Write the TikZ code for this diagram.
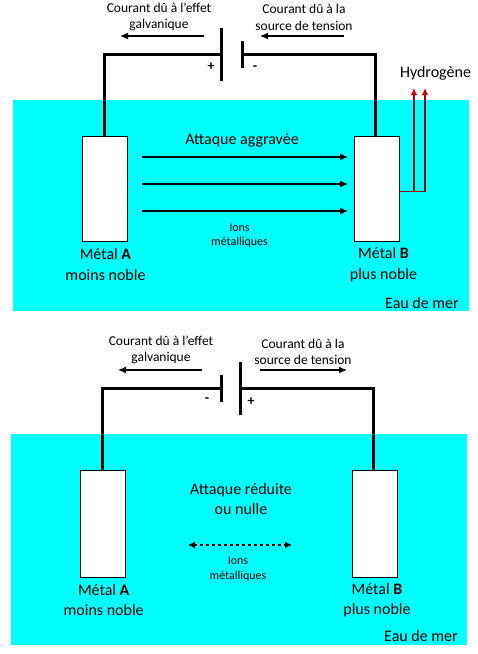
\documentclass[tikz,border=0pt]{standalone}
\usepackage{fontspec}
\setmainfont{Carlito}
\usetikzlibrary{arrows.meta}
\definecolor{sea}{RGB}{0,255,255}
\definecolor{hyd}{RGB}{140,10,10}
\definecolor{hydtip}{RGB}{205,0,0}
\tikzset{
  water/.style={fill=sea,draw=none},
  metal/.style={draw=black,fill=white,line width=1.4pt},
  wire/.style={line width=3pt,line cap=butt,line join=miter},
  plate/.style={line width=3pt},
  flow/.style={line width=1.3pt,-{Latex[length=8pt,width=7pt]}},
  ion/.style={line width=1.2pt,dash pattern=on 3pt off 3pt,{Latex[length=7pt,width=7pt]}-{Latex[length=7pt,width=7pt]}},
  gas/.style={draw=hyd,line width=1.3pt},
  gasup/.style={draw=hyd,line width=1.3pt,-{Latex[length=7pt,width=6.5pt,color=hydtip]}},
  lab/.style={align=center,font=\fontsize{13.5}{16.5}\selectfont,inner sep=0pt},
  big/.style={align=center,font=\fontsize{16}{19.5}\selectfont,inner sep=0pt},
  metlab/.style={align=center,font=\fontsize{16}{20.5}\selectfont,inner sep=0pt},
  small/.style={align=center,font=\fontsize{12}{14.5}\selectfont,inner sep=0pt},
  sign/.style={font=\fontsize{14}{15}\selectfont\bfseries,inner sep=0pt}
}
\begin{document}
\begin{tikzpicture}[x=1pt,y=-1pt]
\useasboundingbox (0,0) rectangle (478,654);
% ---- top
\node[water,minimum width=456pt,minimum height=211pt,anchor=north west,inner sep=0pt] (seaT) at (13,100) {};
\node[metal,minimum width=45pt,minimum height=105pt,anchor=north west,inner sep=0pt] (mAT) at (81.5,136) {};
\node[metal,minimum width=45pt,minimum height=105pt,anchor=north west,inner sep=0pt] (mBT) at (354,136) {};
\coordinate (pT1) at (221.5,28); \coordinate (pT2) at (221.5,81);
\coordinate (nT1) at (242.5,41); \coordinate (nT2) at (242.5,67.5);
\coordinate (wT1) at (221.5,54.5); \coordinate (wT2) at (242.5,54.5);
\coordinate (tAT) at (104.5,136); \coordinate (tBT) at (375.5,136);
\draw[plate] (pT1) -- (pT2);
\draw[plate] (nT1) -- (nT2);
\draw[wire] (wT1) -| (tAT);
\draw[wire] (wT2) -| (tBT);
\coordinate (aT1) at (204,36); \coordinate (aT2) at (120,36);
\coordinate (aT3) at (344,36); \coordinate (aT4) at (260,36);
\draw[flow] (aT1) -- (aT2);
\draw[flow] (aT3) -- (aT4);
\node[lab] (lT1) at (159,17) {Courant dû à l'effet\\galvanique};
\node[lab] (lT2) at (304,17.5) {Courant dû à la\\source de tension};
\node[sign] (plusT) at (211,67) {+};
\node[sign] (minusT) at (255,68) {-};
\coordinate (s1) at (142,157); \coordinate (e1) at (348,157);
\coordinate (s2) at (142,184); \coordinate (e2) at (348,184);
\coordinate (s3) at (142,211); \coordinate (e3) at (348,211);
\draw[flow] (s1) -- (e1);
\draw[flow] (s2) -- (e2);
\draw[flow] (s3) -- (e3);
\node[big] (attT) at (242,140) {Attaque aggravée};
\node[small] (ionT) at (239.5,235.5) {Ions\\métalliques};
\node[metlab] (mlAT) at (105.5,264.5) {Métal \textbf{A}\\moins noble};
\node[metlab] (mlBT) at (383.5,264.5) {Métal \textbf{B}\\plus noble};
\node[big] (eauT) at (422,303) {Eau de mer};
\node[font=\fontsize{16}{18}\selectfont,inner sep=0pt] (hT) at (435.5,73) {Hydrogène};
\coordinate (h0) at (399,191.5);
\coordinate (h1) at (414,191.5); \coordinate (h2) at (425,191.5);
\coordinate (h1u) at (414,88); \coordinate (h2u) at (425,88);
\draw[gas] (h0) -- (h2);
\draw[gasup] (h1) -- (h1u);
\draw[gasup] (h2) -- (h2u);
% ---- bottom
\node[water,minimum width=456pt,minimum height=211pt,anchor=north west,inner sep=0pt] (seaB) at (11,434) {};
\node[metal,minimum width=45pt,minimum height=107pt,anchor=north west,inner sep=0pt] (mAB) at (80,470) {};
\node[metal,minimum width=45pt,minimum height=107pt,anchor=north west,inner sep=0pt] (mBB) at (352,470) {};
\coordinate (nB1) at (221,375); \coordinate (nB2) at (221,401.5);
\coordinate (pB1) at (240.5,362); \coordinate (pB2) at (240.5,415);
\coordinate (wB1) at (221,388.5); \coordinate (wB2) at (240.5,388.5);
\coordinate (tAB) at (102.5,470); \coordinate (tBB) at (373.5,470);
\draw[plate] (nB1) -- (nB2);
\draw[plate] (pB1) -- (pB2);
\draw[wire] (wB1) -| (tAB);
\draw[wire] (wB2) -| (tBB);
\coordinate (aB1) at (202,370); \coordinate (aB2) at (118,370);
\coordinate (aB3) at (260,370); \coordinate (aB4) at (347,370);
\draw[flow] (aB1) -- (aB2);
\draw[flow] (aB3) -- (aB4);
\node[lab] (lB1) at (161,350) {Courant dû à l'effet\\galvanique};
\node[lab] (lB2) at (303,352) {Courant dû à la\\source de tension};
\node[sign] (minusB) at (207,400) {-};
\node[sign] (plusB) at (251,402) {+};
\node[big] (attB) at (241,499) {Attaque réduite\\ou nulle};
\coordinate (iL) at (188,545); \coordinate (iR) at (292,545);
\draw[ion] (iL) -- (iR);
\node[small] (ionB) at (238,569) {Ions\\métalliques};
\node[metlab] (mlAB) at (103.7,600) {Métal \textbf{A}\\moins noble};
\node[metlab] (mlBB) at (377,600) {Métal \textbf{B}\\plus noble};
\node[big] (eauB) at (421,635.5) {Eau de mer};
\end{tikzpicture}
\end{document}
